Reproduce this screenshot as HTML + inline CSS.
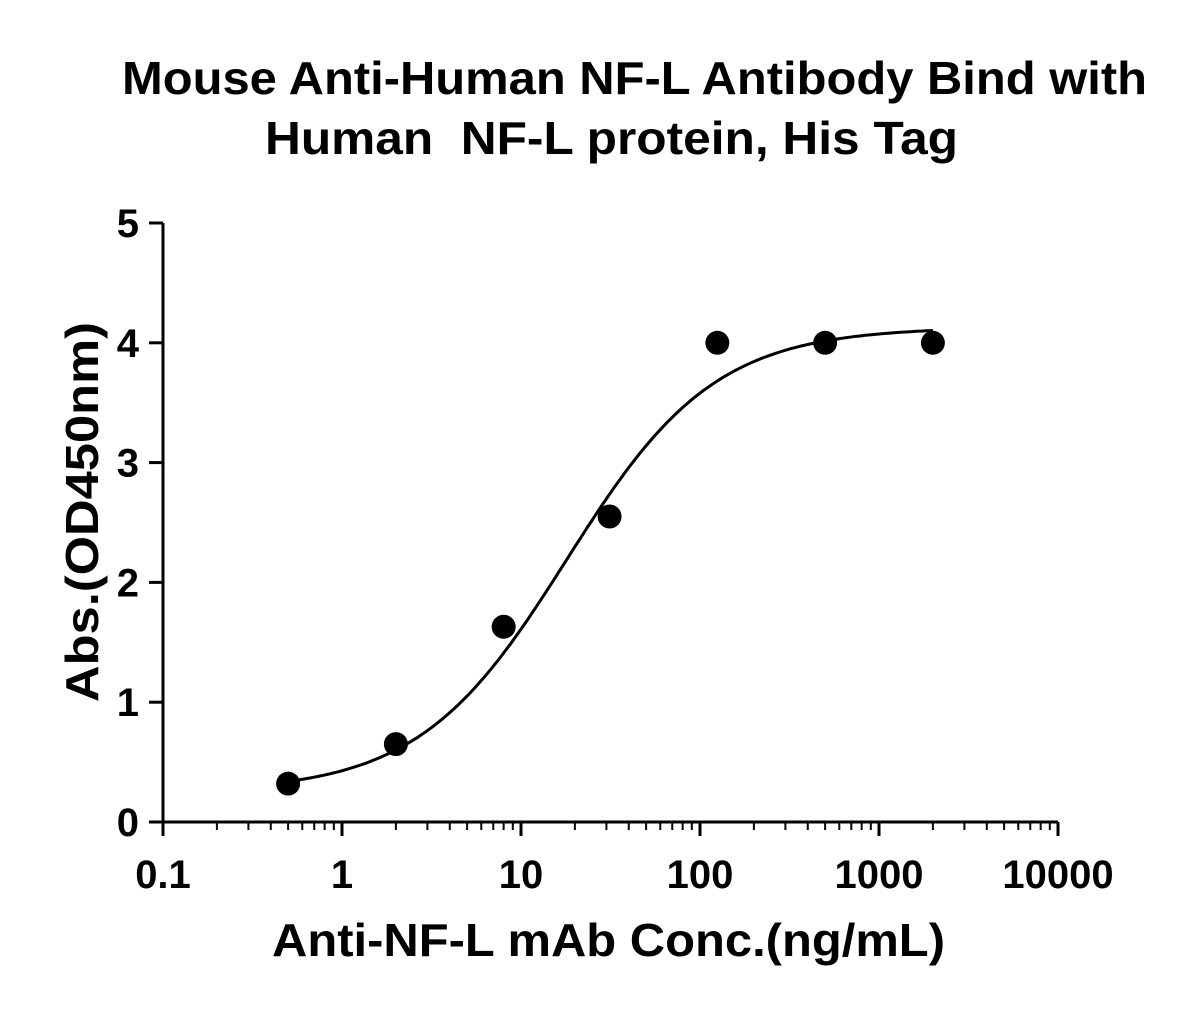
<!DOCTYPE html>
<html><head><meta charset="utf-8"><style>
body{margin:0;background:#fff;}
svg text{font-family:"Liberation Sans",Arial,sans-serif;font-weight:bold;fill:#000;}
</style></head><body>
<svg width="1194" height="1005" viewBox="0 0 1194 1005">
<text x="122" y="94" font-size="46" textLength="1025" lengthAdjust="spacingAndGlyphs">Mouse Anti-Human NF-L Antibody Bind with</text>
<text x="265" y="154" font-size="46" textLength="693" lengthAdjust="spacingAndGlyphs" xml:space="preserve">Human  NF-L protein, His Tag</text>
<text transform="translate(98,512) rotate(-90)" font-size="46" text-anchor="middle" textLength="380" lengthAdjust="spacingAndGlyphs">Abs.(OD450nm)</text>
<text x="272" y="956" font-size="46" textLength="673" lengthAdjust="spacingAndGlyphs">Anti-NF-L mAb Conc.(ng/mL)</text>
<g id="axes"></g>
<g id="marks"></g>
</svg>
<script>
const xTickValues=[0.1,1,10,100,1000,10000];
const xTickLabels=["0.1","1","10","100","1000","10000"];
const yTickValues=[0,1,2,3,4,5];
const yTickLabels=["0","1","2","3","4","5"];
const concentrations=[0.5,2,8,31.25,125,500,2000];
const absorbance=[0.32,0.65,1.63,2.55,4.0,4.0,4.0];
const fitBottom=0.25, fitTop=4.13, fitEC50=18, fitHill=1.05;

const NS="http://www.w3.org/2000/svg";
const X0=163,X1=1058,Y0=822,Y1=223;
function xs(v){return X0+(Math.log10(v)-(-1))/5*(X1-X0);}
function ys(v){return Y0-v/5*(Y0-Y1);}
function mk(tag,attrs,parent){const e=document.createElementNS(NS,tag);for(const k in attrs)e.setAttribute(k,attrs[k]);parent.appendChild(e);return e;}
const axes=document.getElementById('axes'),marks=document.getElementById('marks');
let a=mk('line',{x1:X0,y1:Y0,x2:X1,y2:Y0,stroke:'#000','stroke-width':3},axes);


a=mk('line',{x1:X0,y1:Y0+1.5,x2:X0,y2:Y1,stroke:'#000','stroke-width':3},axes);


xTickValues.forEach((v,i)=>{
  const x=xs(v);
  let t=mk('line',{x1:x,y1:Y0,x2:x,y2:Y0+14,stroke:'#000','stroke-width':3},axes);
  
  
  let l=mk('text',{x:x,y:Y0+66,'font-size':40,'text-anchor':'middle'},axes);
  l.textContent=xTickLabels[i];
  
  
  if(i<xTickValues.length-1){for(let m=2;m<=9;m++){const xm=xs(v*m);
    let mt=mk('line',{x1:xm,y1:Y0,x2:xm,y2:Y0+8,stroke:'#000','stroke-width':2},axes);
    
    }}
});
yTickValues.forEach((v,i)=>{
  const y=ys(v);
  let t=mk('line',{x1:X0-14,y1:y,x2:X0,y2:y,stroke:'#000','stroke-width':3},axes);
  
  
  let l=mk('text',{x:X0-24,y:y+14,'font-size':40,'text-anchor':'end'},axes);
  l.textContent=yTickLabels[i];
  
  
});
let d='';const lo=Math.log10(concentrations[0]),hi=Math.log10(concentrations[concentrations.length-1]);
for(let k=0;k<=200;k++){const lx=lo+(hi-lo)*k/200,c=Math.pow(10,lx);
  const yv=fitBottom+(fitTop-fitBottom)/(1+Math.pow(fitEC50/c,fitHill));
  d+=(k?'L':'M')+xs(c).toFixed(1)+','+ys(yv).toFixed(1);}
let p=mk('path',{d:d,fill:'none',stroke:'#000','stroke-width':3},marks);


concentrations.forEach((c,i)=>{
  let pt=mk('circle',{cx:xs(c),cy:ys(absorbance[i]),r:12,fill:'#000'},marks);
  
  
});
</script>
</body></html>
